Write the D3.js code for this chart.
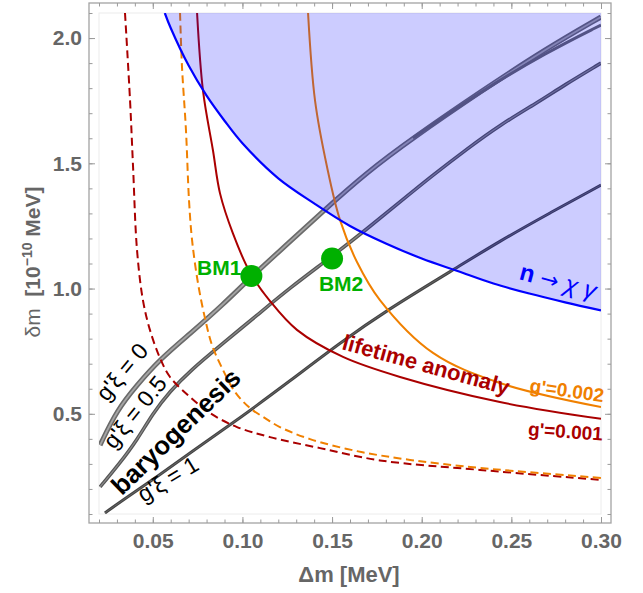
<!DOCTYPE html>
<html><head><meta charset="utf-8">
<script src="https://cdn.jsdelivr.net/npm/d3@7"></script>
<style>
body{margin:0;background:#fff}
svg{display:block}
text{font-family:"Liberation Sans",Arial,sans-serif}
</style>
</head><body>
<svg id="c" width="643" height="593"></svg>
<script>
// ---------- data ----------
const xMajorTicks = [0.05,0.10,0.15,0.20,0.25,0.30];
const yMajorTicks = [0.5,1.0,1.5,2.0];

// n -> chi gamma boundary (region above is excluded)
const nDecayBoundary = [[0.0567,2.10],[0.06,2.04],[0.07,1.89],[0.08,1.77],[0.09,1.67],[0.10,1.58],[0.12,1.44],[0.14,1.34],[0.16,1.25],[0.18,1.18],[0.20,1.12],[0.22,1.07],[0.24,1.02],[0.26,0.98],[0.28,0.945],[0.30,0.913]];

// lifetime anomaly, g' = 0.001 (solid) and its dashed companion
const lifetime001 = [[0.0747,2.10],[0.078,1.79],[0.0836,1.55],[0.0875,1.38],[0.0947,1.22],[0.1042,1.065],[0.1154,0.95],[0.1304,0.835],[0.1561,0.727],[0.1879,0.647],[0.2436,0.547],[0.30,0.48]];
const lifetime001Dashed = [[0.0345,2.10],[0.0373,1.753],[0.039,1.485],[0.0412,1.154],[0.0445,0.954],[0.0484,0.835],[0.054,0.723],[0.0596,0.647],[0.0708,0.567],[0.0819,0.503],[0.097,0.447],[0.1154,0.407],[0.1433,0.363],[0.1767,0.314],[0.2325,0.276],[0.30,0.236]];

// lifetime anomaly, g' = 0.002 (solid) and dashed
const lifetime002 = [[0.1366,2.10],[0.1405,1.75],[0.1472,1.485],[0.1544,1.274],[0.1639,1.106],[0.1767,0.954],[0.2063,0.743],[0.2436,0.623],[0.30,0.527]];
const lifetime002Dashed = [[0.0652,2.10],[0.0663,1.884],[0.0685,1.633],[0.0702,1.353],[0.0719,1.194],[0.0752,1.022],[0.0791,0.882],[0.083,0.775],[0.0886,0.683],[0.0959,0.587],[0.1042,0.523],[0.1126,0.483],[0.1209,0.447],[0.1377,0.399],[0.1639,0.351],[0.1935,0.316],[0.2325,0.284],[0.30,0.244]];

// baryogenesis contours
const baryoXi0 = [[0.0206,0.375],[0.030,0.515],[0.0412,0.615],[0.054,0.718],[0.0708,0.820],[0.0892,0.936],[0.1042,1.042],[0.1265,1.187],[0.1433,1.298],[0.1695,1.465],[0.1951,1.601],[0.2325,1.785],[0.2699,1.960],[0.30,2.084]];
const baryoXi0b = [[0.1951,1.601],[0.2325,1.785],[0.2699,1.944],[0.30,2.052]];
const baryoXi05 = [[0.0206,0.208],[0.0317,0.304],[0.0412,0.395],[0.0501,0.503],[0.0596,0.590],[0.0708,0.672],[0.0892,0.782],[0.1081,0.893],[0.1265,1.003],[0.1488,1.122],[0.1695,1.238],[0.1879,1.346],[0.2063,1.453],[0.2252,1.557],[0.2436,1.653],[0.266,1.749],[0.2788,1.809],[0.30,1.900]];
const baryoXi1 = [[0.0233,0.104],[0.0334,0.156],[0.0523,0.248],[0.0708,0.344],[0.0986,0.483],[0.1265,0.631],[0.1544,0.783],[0.1806,0.914],[0.2174,1.074],[0.2436,1.190],[0.2715,1.302],[0.30,1.413]];

// benchmark points
const benchmarks = [{name:"BM1", dm:0.105, sdm:1.05},{name:"BM2", dm:0.15, sdm:1.12}];

// ---------- scales ----------
const x = d3.scaleLinear().domain([0.02,0.30]).range([99,601]);
const y = d3.scaleLinear().domain([0.1,2.1]).range([514,13]);

const svg = d3.select("#c");
const FONT = '"Liberation Sans",Arial,sans-serif';

svg.append("defs").append("clipPath").attr("id","clip")
  .append("rect").attr("x",99).attr("y",13).attr("width",502).attr("height",501);

// faint plot-range border
svg.append("rect").attr("x",99).attr("y",13).attr("width",502).attr("height",501)
  .attr("fill","none").attr("stroke","#ececec").attr("stroke-width",1);

const g = svg.append("g").attr("clip-path","url(#clip)");
const line = d3.line().x(d=>x(d[0])).y(d=>y(d[1])).curve(d3.curveCatmullRom.alpha(0.5));
const smooth = d3.line().x(d=>x(d[0])).y(d=>y(d[1])).curve(d3.curveBasis);

function draw(data, color, width, dash, gen){
  const p = g.append("path").attr("d", (gen||line)(data)).attr("fill","none")
    .attr("stroke", color).attr("stroke-width", width).attr("stroke-linejoin","round");
  if (dash) p.attr("stroke-dasharray", dash);
  return p;
}

// baryogenesis bands
draw(baryoXi0, "#6a6a6a", 5, null, smooth);
draw(baryoXi0, "#a5a5a5", 1.8, null, smooth);
draw(baryoXi0b, "#676767", 3, null, smooth);
draw(baryoXi05, "#555", 3.6, null, smooth);
draw(baryoXi05, "#8c8c8c", 1.1, null, smooth);
draw(baryoXi1, "#444", 3, null, smooth);
draw(baryoXi1, "#6d6d6d", 0.8, null, smooth);

// lifetime anomaly curves
draw(lifetime001Dashed, "#aa0000", 2, "8,4.5");
draw(lifetime002Dashed, "#f08000", 2, "8,4.5");
draw(lifetime001, "#aa0000", 2);
draw(lifetime002, "#f08000", 2);

// excluded region n -> chi gamma
const area = d3.area().x(d=>x(d[0])).y0(y(2.1)).y1(d=>y(d[1])).curve(d3.curveCatmullRom.alpha(0.5));
g.append("path").attr("d", area(nDecayBoundary)).attr("fill","rgba(0,0,255,0.2)").attr("stroke","none");
draw(nDecayBoundary, "#0000ff", 2.2);

// ---------- frame & axes ----------
svg.append("rect").attr("x",89).attr("y",3).attr("width",522).attr("height",520)
  .attr("fill","none").attr("stroke","#a3a3a3").attr("stroke-width",1.3);

const xMinor = d3.range(0.02, 0.3001, 0.01);
const yMinor = d3.range(0.1, 2.1001, 0.1);

function styleAxis(sel){
  sel.select(".domain").remove();
  sel.selectAll(".tick line").attr("stroke","#9a9a9a").attr("stroke-width",1);
  sel.selectAll(".tick text").attr("fill","#666").attr("font-size",21)
     .attr("font-weight","bold").attr("font-family",FONT);
}
svg.append("g").attr("transform","translate(0,523)")
  .call(d3.axisBottom(x).tickValues(xMinor).tickSize(-3.5).tickFormat("")).call(styleAxis);
svg.append("g").attr("transform","translate(0,523)")
  .call(d3.axisBottom(x).tickValues(xMajorTicks).tickSize(-6).tickPadding(10).tickFormat(d3.format(".2f"))).call(styleAxis);
svg.append("g").attr("transform","translate(0,3)")
  .call(d3.axisTop(x).tickValues(xMinor).tickSize(-3.5).tickFormat("")).call(styleAxis);
svg.append("g").attr("transform","translate(0,3)")
  .call(d3.axisTop(x).tickValues(xMajorTicks).tickSize(-6).tickFormat("")).call(styleAxis);
svg.append("g").attr("transform","translate(89,0)")
  .call(d3.axisLeft(y).tickValues(yMinor).tickSize(-3.5).tickFormat("")).call(styleAxis);
svg.append("g").attr("transform","translate(89,0)")
  .call(d3.axisLeft(y).tickValues(yMajorTicks).tickSize(-6).tickPadding(7).tickFormat(d3.format(".1f"))).call(styleAxis);
svg.append("g").attr("transform","translate(611,0)")
  .call(d3.axisRight(y).tickValues(yMinor).tickSize(-3.5).tickFormat("")).call(styleAxis);
svg.append("g").attr("transform","translate(611,0)")
  .call(d3.axisRight(y).tickValues(yMajorTicks).tickSize(-6).tickFormat("")).call(styleAxis);

// axis titles
svg.append("text").attr("x",349).attr("y",582).attr("text-anchor","middle")
  .attr("fill","#666").attr("font-size",22).attr("font-weight","bold").text("\u0394m [MeV]");
const yt = svg.append("text").attr("transform","translate(40,262) rotate(-90)")
  .attr("text-anchor","middle").attr("fill","#666").attr("font-size",21);
yt.append("tspan").attr("font-weight","normal").text("\u03b4m");
yt.append("tspan").attr("font-weight","bold").text("\u00a0\u00a0[10");
yt.append("tspan").attr("font-weight","bold").attr("font-size",14).attr("dy",-8).text("\u221210");
yt.append("tspan").attr("font-weight","bold").attr("dy",8).text(" MeV]");

// ---------- annotations ----------
function label(txt, px, py, rot, size, weight, color, style){
  const t = svg.append("text").attr("transform",`translate(${px},${py}) rotate(${rot})`)
    .attr("text-anchor","middle").attr("font-size",size).attr("font-weight",weight)
    .attr("fill",color).text(txt);
  if (style) t.attr("font-style", style);
  return t;
}
label("g'\u03be = 0", 128, 377, -50, 23, "normal", "#000");
label("g'\u03be = 0.5", 141, 417, -51, 23, "normal", "#000");
label("baryogenesis", 182, 438, -44, 26, "bold", "#000");
label("g'\u03be = 1", 172, 486, -31, 23, "normal", "#000");
label("lifetime anomaly", 424, 372, 15.5, 22, "bold", "#aa0000");
label("g'=0.002", 566, 397, 8, 19, "bold", "#f08000");
label("g'=0.001", 565, 438, 4, 19, "bold", "#aa0000");

const nl = svg.append("text").attr("transform","translate(556,289) rotate(15)")
  .attr("text-anchor","middle").attr("font-size",24).attr("fill","#0000ff");
nl.append("tspan").attr("font-weight","bold").text("n ");
nl.append("tspan").attr("font-family","DejaVu Sans").attr("font-size",22).text("\u2192");
nl.append("tspan").attr("font-style","italic").text(" \u03c7 \u03b3");

// benchmark points
svg.selectAll("circle.bm").data(benchmarks).enter().append("circle")
  .attr("class","bm").attr("cx",d=>x(d.dm)).attr("cy",d=>y(d.sdm)).attr("r",11).attr("fill","#00b000");
svg.append("text").attr("x",x(benchmarks[0].dm)-10).attr("y",y(benchmarks[0].sdm)-1)
  .attr("text-anchor","end").attr("font-size",21).attr("font-weight","bold").attr("fill","#00b000").text(benchmarks[0].name);
svg.append("text").attr("x",x(benchmarks[1].dm)+9).attr("y",y(benchmarks[1].sdm)+33)
  .attr("text-anchor","middle").attr("font-size",21).attr("font-weight","bold").attr("fill","#00b000").text(benchmarks[1].name);
</script>
</body></html>
